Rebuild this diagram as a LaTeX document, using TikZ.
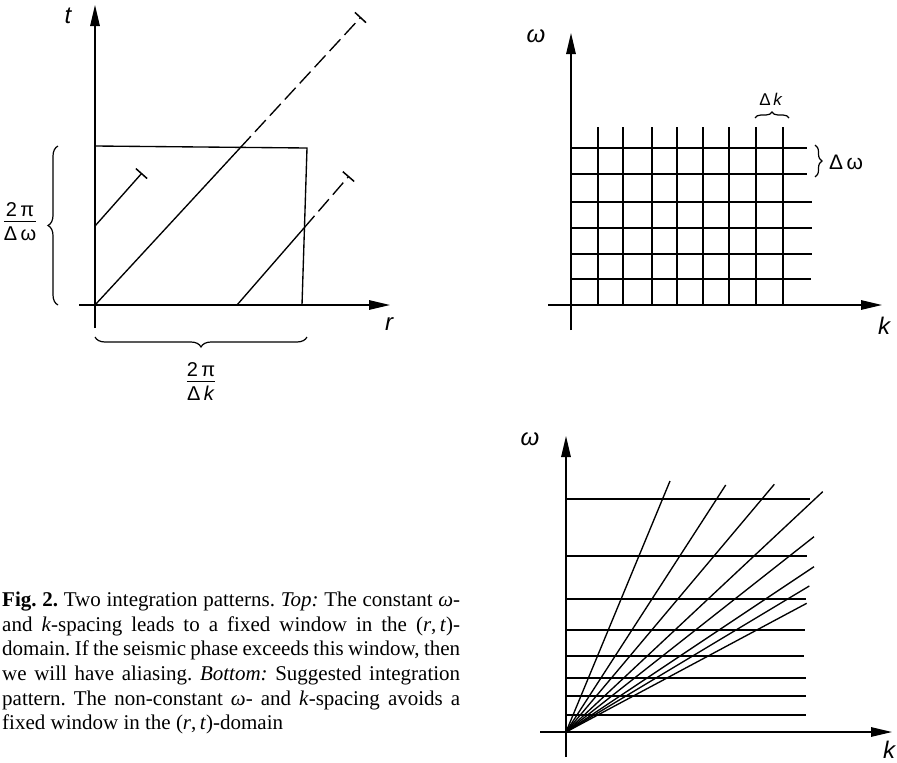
\documentclass[tikz,border=0pt]{standalone}
\usepackage{fontspec}
\setmainfont{Liberation Serif}
\newfontfamily\lblfont{Liberation Sans}
\usetikzlibrary{arrows.meta,decorations.pathreplacing}
\begin{document}
\frenchspacing
\begin{tikzpicture}[x=1pt,y=-1pt,
  ln/.style={line width=1.35pt},
  axis/.style={line width=1.35pt,-{Triangle[length=21pt,width=9.5pt]}},
  dsh/.style={line width=1.35pt,dash pattern=on 16pt off 6pt},
  capped/.style={-{Bar[width=15pt,line width=1.5pt]}},
  brc/.style={decorate,decoration={brace,amplitude=10pt},line width=1.2pt},
  lbl/.style={font=\lblfont\itshape\fontsize{24}{28}\selectfont,inner sep=0pt},
  fr/.style={font=\lblfont\fontsize{20}{22}\selectfont,inner sep=0pt},
  captxt/.style={font=\fontsize{21}{25}\selectfont,anchor=base west,inner sep=0pt}
]
\useasboundingbox (0,0) rectangle (897,763);
\setlength\arrayrulewidth{1.3pt}

% ---------- top-left (r,t) ----------
\coordinate (O1) at (95,305);
\coordinate (tB) at (95,328);
\coordinate (tT) at (95,5);
\coordinate (rL) at (79,305);
\coordinate (rR) at (390,305);
\draw[axis] (tB) -- (tT);
\draw[axis] (rL) -- (rR);
\coordinate (w1) at (95,146);
\coordinate (w2) at (307,148);
\coordinate (w3) at (302,305);
\draw[ln] (w1) -- (w2) -- (w3);
% main diagonal
\coordinate (m1) at (240,148);
\coordinate (m2) at (361,17);
\draw[ln] (O1) -- (m1);
\draw[dsh,capped] (m1) -- (m2);
% short line
\coordinate (s0) at (95,226);
\coordinate (s1) at (142,173);
\draw[ln,capped] (s0) -- (s1);
% right line
\coordinate (q0) at (237,305);
\coordinate (q1) at (304,228);
\coordinate (q2) at (349,176);
\draw[ln] (q0) -- (q1);
\draw[dsh,capped] (q1) -- (q2);
% braces
\coordinate (bl0) at (58,305);
\coordinate (bl1) at (58,146);
\draw[brc] (bl0) -- (bl1);
\coordinate (bb0) at (307,337);
\coordinate (bb1) at (95,337);
\draw[brc] (bb0) -- (bb1);
\node[fr] (fw) at (20,224) {\begin{tabular}{@{}c@{}}2\,π\\[-2pt]\hline\rule{0pt}{18pt}Δ\,ω\end{tabular}};
\node[fr] (fk) at (201,384) {\begin{tabular}{@{}c@{}}2\,π\\[-2pt]\hline\rule{0pt}{18pt}Δ\,\textit{k}\end{tabular}};
\node[lbl] (lt) at (68,16) {t};
\node[lbl] (lr) at (389,324) {r};

% ---------- top-right grid ----------
\coordinate (O2) at (571,305);
\coordinate (wB) at (571,330);
\coordinate (wT) at (571,33);
\coordinate (kL) at (548,305);
\coordinate (kR) at (882,305);
\draw[axis] (wB) -- (wT);
\draw[axis] (kL) -- (kR);
\foreach \x in {598,623,652,677,703,729,756,783}
  \draw[ln] (\x,305) -- (\x,127);
\foreach \y/\e in {148/807,174/807,202/812,228/812,254/812,279/811}
  \draw[ln] (571,\y) -- (\e,\y);
\coordinate (dk0) at (755,118);
\coordinate (dk1) at (789,118);
\draw[brc,decoration={brace,amplitude=6pt}] (dk0) -- (dk1);
\coordinate (dw0) at (815,145);
\coordinate (dw1) at (815,177);
\draw[brc,decoration={brace,amplitude=7pt}] (dw0) -- (dw1);
\node[fr,font=\lblfont\fontsize{17}{20}\selectfont] (ldk) at (771,99) {Δ\,\textit{k}};
\node[fr,font=\lblfont\fontsize{21}{24}\selectfont] (ldw) at (846,162) {Δ\,ω};
\node[lbl] (lw2) at (536,36) {ω};
\node[lbl] (lk2) at (884,326) {k};

% ---------- bottom-right fan ----------
\coordinate (O3) at (566,732);
\coordinate (vB) at (566,757);
\coordinate (vT) at (566,436);
\coordinate (hL) at (540,732);
\coordinate (hR) at (892,732);
\draw[axis] (vB) -- (vT);
\draw[axis] (hL) -- (hR);
\foreach \y/\e in {499/810,556/807,599/806,630/804.5,656/804,678/806,696/806,715/806}
  \draw[ln] (566,\y) -- (\e,\y);
\foreach \p in {(670,481),(725.7,485),(774.3,484.3),(822.7,491.7),(814,536.7),(814,566.7),(809.3,586),(806.7,603.3)}
  \draw[ln] (O3) -- \p;
\node[lbl] (lw3) at (530,439) {ω};
\node[lbl] (lk3) at (889,750) {k};

% ---------- caption ----------
\node[captxt] (c1) at (2,606) {\makebox[458pt][s]{\textbf{Fig. 2.} Two integration patterns. \textit{Top:} The constant \textit{ω}-}};
\node[captxt] (c2) at (2,631) {\makebox[458pt][s]{and \textit{k}-spacing leads to a fixed window in the (\textit{r},\,\textit{t})-}};
\node[captxt] (c3) at (2,655.5) {\makebox[458pt][s]{domain. If the seismic phase exceeds this window, then}};
\node[captxt] (c4) at (2,680.5) {\makebox[458pt][s]{we will have aliasing. \textit{Bottom:} Suggested integration}};
\node[captxt] (c5) at (2,705) {\makebox[458pt][s]{pattern. The non-constant \textit{ω}- and \textit{k}-spacing avoids a}};
\node[captxt] (c6) at (2,729.5) {fixed window in the (\textit{r},\,\textit{t})-domain};
\end{tikzpicture}
\end{document}
